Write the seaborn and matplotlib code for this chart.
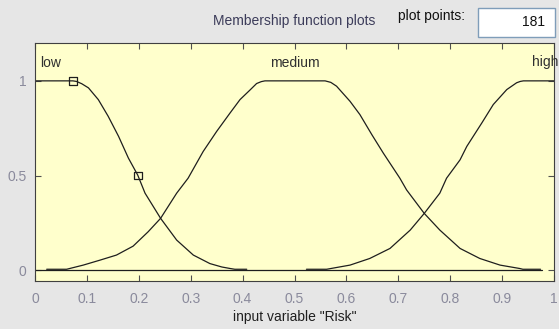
import matplotlib
matplotlib.use("Agg")
import matplotlib.pyplot as plt
from matplotlib.patches import Rectangle
from matplotlib.ticker import FormatStrFormatter
import numpy as np
import pandas as pd
import seaborn as sns

# Membership function curves for the input variable "Risk"
low_x = [0.0, 0.073, 0.080, 0.090, 0.103, 0.122, 0.141, 0.161, 0.180, 0.198, 0.212,
         0.242, 0.273, 0.305, 0.337, 0.360, 0.376, 0.385, 0.408]
low_y = [1.0, 1.0, 0.997, 0.985, 0.963, 0.901, 0.813, 0.707, 0.592, 0.502, 0.407,
         0.274, 0.159, 0.080, 0.035, 0.017, 0.009, 0.005, 0.005]

medium_x = [0.0225, 0.061, 0.093, 0.125, 0.157, 0.189, 0.218, 0.242, 0.273, 0.295,
            0.324, 0.350, 0.376, 0.395, 0.414, 0.427, 0.436, 0.443, 0.559, 0.570,
            0.581, 0.607, 0.626, 0.649, 0.671, 0.703, 0.716, 0.750, 0.780, 0.819,
            0.857, 0.896, 0.934, 0.940, 0.974]
medium_y = [0.005, 0.005, 0.027, 0.053, 0.080, 0.127, 0.203, 0.274, 0.407, 0.486,
            0.627, 0.733, 0.831, 0.901, 0.951, 0.986, 0.996, 1.0, 1.0, 0.992,
            0.972, 0.892, 0.822, 0.716, 0.619, 0.486, 0.424, 0.300, 0.212, 0.115,
            0.062, 0.027, 0.009, 0.005, 0.005]

high_x = [0.523, 0.562, 0.607, 0.645, 0.684, 0.723, 0.750, 0.780, 0.793, 0.819,
          0.832, 0.861, 0.883, 0.909, 0.928, 0.935, 0.941, 1.0]
high_y = [0.005, 0.005, 0.027, 0.062, 0.115, 0.212, 0.300, 0.407, 0.486, 0.583,
          0.654, 0.778, 0.875, 0.954, 0.990, 0.997, 1.0, 1.0]

zero_x = [0.0, 0.976]
zero_y = [0.0, 0.0]

# Control points of the selected function
marker_x = [0.073, 0.198]
marker_y = [1.0, 0.5]

mf_names = ["low", "medium", "high"]
x_ticks = [0, 0.1, 0.2, 0.3, 0.4, 0.5, 0.6, 0.7, 0.8, 0.9, 1]
y_ticks = [0, 0.5, 1]
plot_points = 181

sns.set_theme(style="white")
plt.rcParams["font.family"] = ["Liberation Sans", "DejaVu Sans"]

W, H = 559, 329
fig = plt.figure(figsize=(W / 100, H / 100), dpi=100, facecolor="#e6e6e6")
ax = fig.add_axes([35 / W, 1 - 281 / H, (554 - 35) / W, (281 - 43) / H])
ax.set_facecolor("#ffffcc")

line_kw = dict(color="#1e1e1e", linewidth=0.9, sort=False, estimator=None, ax=ax)
sns.lineplot(x=zero_x, y=zero_y, **line_kw)
for xs, ys in [(low_x, low_y), (medium_x, medium_y), (high_x, high_y)]:
    sns.lineplot(x=xs, y=ys, **line_kw)

sns.scatterplot(x=marker_x, y=marker_y, marker="s", s=30, facecolor="none",
                edgecolor="#1e1e1e", linewidth=0.9, ax=ax, zorder=5)

ax.set_xlim(0, 1)
ax.set_ylim(-0.057, 1.2)
ax.set_xticks(x_ticks)
ax.set_yticks(y_ticks)
ax.xaxis.set_major_formatter(FormatStrFormatter("%g"))
ax.yaxis.set_major_formatter(FormatStrFormatter("%g"))
ax.tick_params(direction="in", length=4, width=0.8, color="#505050",
               top=True, right=True, bottom=True, left=True,
               labelsize=10, labelcolor="#8a8a9c")
ax.tick_params(axis="x", pad=8)
ax.tick_params(axis="y", pad=6)
for sp in ax.spines.values():
    sp.set_color("#404040")
    sp.set_linewidth(0.8)

ax.set_xlabel('input variable "Risk"', fontsize=10, color="#202020", labelpad=3)
ax.set_ylabel("")

# Function names above each curve
ax.text(0.01, 1.095, mf_names[0], fontsize=10, color="#303030", ha="left",
        va="center")
ax.text(0.5, 1.095, mf_names[1], fontsize=10, color="#303030", ha="center",
        va="center")
fig.text(558 / W, 1 - 62 / H, mf_names[2], fontsize=10, color="#303030",
         ha="right", va="center")

fig.text(294 / W, 1 - 21 / H, "Membership function plots", fontsize=10,
         color="#3c3c5a", ha="center", va="center")
fig.text(431 / W, 1 - 16 / H, "plot points:", fontsize=10, color="#101010",
         ha="center", va="center")
fig.patches.append(Rectangle((478 / W, 1 - 37 / H), 77 / W, 29 / H,
                             transform=fig.transFigure, facecolor="white",
                             edgecolor="#7f9db9", linewidth=1.0))
fig.text(545 / W, 1 - 22 / H, str(plot_points), fontsize=10, color="#101010",
         ha="right", va="center")

fig.savefig("out.png", dpi=100, facecolor=fig.get_facecolor())
